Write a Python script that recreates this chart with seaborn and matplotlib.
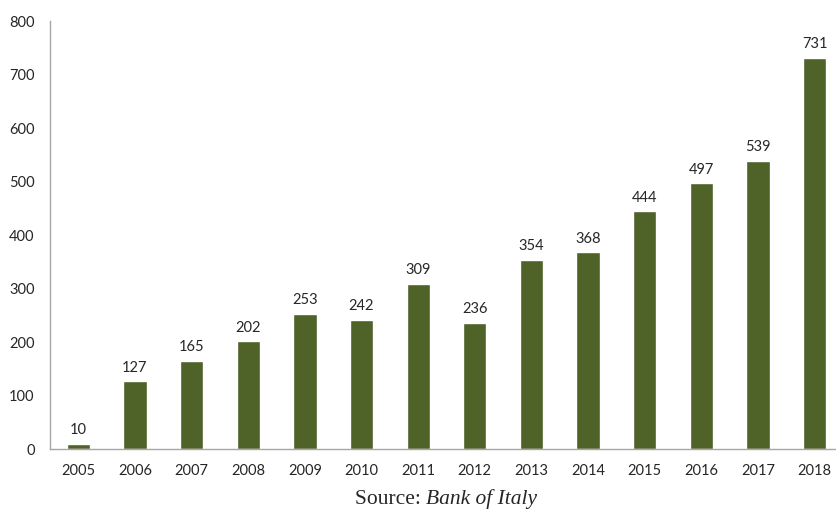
import numpy as np
import pandas as pd
import matplotlib
matplotlib.use("Agg")
import matplotlib.pyplot as plt
import seaborn as sns

# ===============================
# DATA
# ===============================
years = ["2005", "2006", "2007", "2008", "2009", "2010", "2011",
         "2012", "2013", "2014", "2015", "2016", "2017", "2018"]
values = [10, 127, 165, 202, 253, 242, 309, 236, 354, 368, 444, 497, 539, 731]
y_ticks = [0, 100, 200, 300, 400, 500, 600, 700, 800]

BAR_COLOR = "#4f6228"
AXIS_COLOR = "#a6a6a6"
TEXT_COLOR = "#262626"

df = pd.DataFrame({"year": years, "value": values})

# ===============================
# PLOT
# ===============================
sns.set_style("white")
plt.rcParams["font.family"] = ["Lato", "DejaVu Sans"]

fig = plt.figure(figsize=(8.36, 5.11), dpi=100)
ax = fig.add_axes([50 / 836, 62 / 511, 793 / 836, 428 / 511])

sns.barplot(data=df, x="year", y="value", color=BAR_COLOR, width=0.41,
            saturation=1, ax=ax)

for i, v in enumerate(values):
    ax.text(i, v + 12, str(v), ha="center", va="bottom",
            fontsize=10.5, color=TEXT_COLOR)

ax.set_xlim(-0.5, len(years) - 0.5)
ax.set_ylim(0, 800)
ax.set_yticks(y_ticks)
ax.set_xlabel("")
ax.set_ylabel("")

# category labels centred, tick marks between categories
ax.tick_params(axis="x", which="major", length=0, pad=11,
               labelsize=10.5, labelcolor=TEXT_COLOR)
ax.set_xticks(np.arange(-0.5, len(years)), minor=True)
ax.tick_params(axis="x", which="minor", length=5, direction="out",
               color=AXIS_COLOR, width=1)
ax.tick_params(axis="y", length=5, direction="out", color=AXIS_COLOR,
               width=1, labelsize=10.5, labelcolor=TEXT_COLOR, pad=6)

for side in ["top", "right"]:
    ax.spines[side].set_visible(False)
for side in ["left", "bottom"]:
    ax.spines[side].set_color(AXIS_COLOR)
    ax.spines[side].set_linewidth(1)

fig.text(426 / 836, 1 - 499 / 511, "Source: ", ha="right", va="center",
         fontsize=15.5, family="Liberation Serif", color=TEXT_COLOR)
fig.text(426 / 836, 1 - 499 / 511, "Bank of Italy", ha="left", va="center",
         fontsize=15.5, family="Liberation Serif", style="italic",
         color=TEXT_COLOR)

fig.savefig("out.png", dpi=100)
